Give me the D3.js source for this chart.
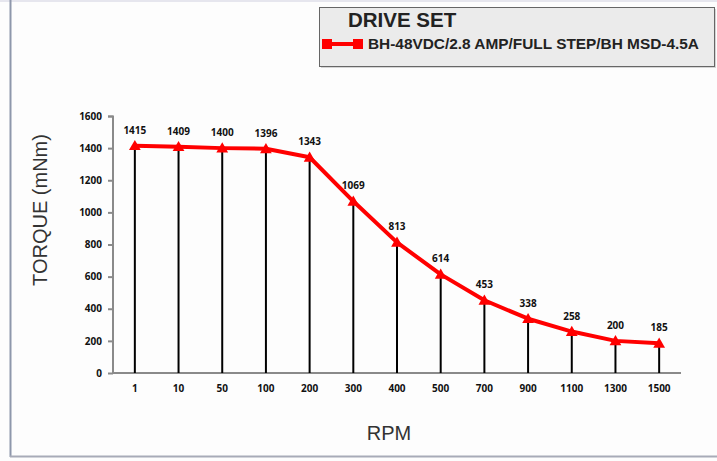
<!DOCTYPE html>
<html><head><meta charset="utf-8">
<script src="https://cdn.jsdelivr.net/npm/d3@7"></script>
<style>html,body{margin:0;padding:0;background:#fdfdfd;}svg{display:block;}</style>
</head><body>
<svg id="c" width="717" height="461"></svg>
<script>
const categories = ["1","10","50","100","200","300","400","500","700","900","1100","1300","1500"];
const torque = [1415,1409,1400,1396,1343,1069,813,614,453,338,258,200,185];
const yTicks = [0,200,400,600,800,1000,1200,1400,1600];
const seriesName = "BH-48VDC/2.8 AMP/FULL STEP/BH MSD-4.5A";
const legendTitle = "DRIVE SET";

const svg = d3.select("#c");
// frame
svg.append("rect").attr("x",0).attr("y",0).attr("width",717).attr("height",2).attr("fill","#e6e6ee");
svg.append("line").attr("x1",10.5).attr("x2",10.5).attr("y1",0).attr("y2",457).attr("stroke","#8e97ab").attr("stroke-width",2);
svg.append("line").attr("x1",10).attr("x2",717).attr("y1",456.5).attr("y2",456.5).attr("stroke","#a8abb8").attr("stroke-width",2);

const x = d3.scaleBand().domain(categories).range([113,681]);
const y = d3.scaleLinear().domain([0,1600]).range([373,116]);

const font = "'Open Sans', Lato, sans-serif";
// y axis
const ya = svg.append("g").attr("transform","translate(113,0)")
  .call(d3.axisLeft(y).tickValues(yTicks).tickFormat(d3.format("d")).tickSize(5).tickPadding(6));
ya.select(".domain").attr("stroke","#8a8a8a").attr("stroke-width",2).attr("d","M-5,116.5H0V373");
ya.selectAll(".tick line").attr("stroke","#8a8a8a").attr("stroke-width",2);
ya.selectAll(".tick text").attr("font-family",font).attr("font-weight","bold").attr("font-size",10).attr("fill","#111");

// x axis
const xa = svg.append("g").attr("transform","translate(0,373)")
  .call(d3.axisBottom(x).tickSize(0).tickPadding(12));
xa.select(".domain").attr("stroke","#8a8a8a").attr("stroke-width",2).attr("d","M113,0H681");
xa.selectAll(".tick text").attr("font-family",font).attr("font-weight","bold").attr("font-size",10).attr("fill","#111");

const cx = d => x(d)+x.bandwidth()/2;
// drop lines
svg.append("g").selectAll("line").data(categories).join("line")
  .attr("x1",(d)=>cx(d)).attr("x2",(d)=>cx(d))
  .attr("y1",(d,i)=>y(torque[i])).attr("y2",y(0))
  .attr("stroke","#000").attr("stroke-width",2);

// line
svg.append("path").datum(torque)
  .attr("d", d3.line().x((d,i)=>cx(categories[i])).y(d=>y(d)))
  .attr("fill","none").attr("stroke","#ff0000").attr("stroke-width",4).attr("stroke-linejoin","round");

// markers
const tri = d3.symbol().type(d3.symbolTriangle).size(60);
svg.append("g").selectAll("path").data(torque).join("path")
  .attr("d",tri).attr("transform",(d,i)=>`translate(${cx(categories[i])},${y(d)+1})`)
  .attr("fill","#ff0000");

// labels
svg.append("g").selectAll("text").data(torque).join("text")
  .attr("x",(d,i)=>cx(categories[i])).attr("y",d=>y(d)-12)
  .attr("text-anchor","middle").attr("font-family",font).attr("font-weight","bold").attr("font-size",10).attr("fill","#111")
  .text(d=>d);

// axis titles
svg.append("text").attr("transform","translate(47,210) rotate(-90)").attr("text-anchor","middle")
  .attr("font-family","'Liberation Sans', Arial, sans-serif").attr("font-size",20).attr("fill","#333").text("TORQUE (mNm)");
svg.append("text").attr("x",389).attr("y",440).attr("text-anchor","middle")
  .attr("font-family","'Liberation Sans', Arial, sans-serif").attr("font-size",20).attr("fill","#333").text("RPM");

// legend
svg.append("rect").attr("x",321).attr("y",9).attr("width",395).attr("height",59).attr("fill","#bbb").attr("opacity",0.6);
svg.append("rect").attr("x",319.5).attr("y",7.5).attr("width",395).attr("height",59).attr("fill","#ebebeb").attr("stroke","#666").attr("stroke-width",1);
svg.append("text").attr("x",348).attr("y",27).attr("font-family","'Liberation Sans', Arial, sans-serif").attr("font-weight","bold")
  .attr("font-size",20.5).attr("fill","#222").text(legendTitle);
svg.append("line").attr("x1",325).attr("x2",360).attr("y1",44).attr("y2",44).attr("stroke","#ff0000").attr("stroke-width",4);
svg.append("rect").attr("x",322).attr("y",39).attr("width",10).attr("height",10).attr("fill","#ff0000");
svg.append("rect").attr("x",353).attr("y",39).attr("width",10).attr("height",10).attr("fill","#ff0000");
svg.append("text").attr("x",368).attr("y",49).attr("font-family","'Liberation Sans', Arial, sans-serif").attr("font-weight","bold")
  .attr("font-size",15.4).attr("fill","#222").text(seriesName);
</script>
</body></html>
